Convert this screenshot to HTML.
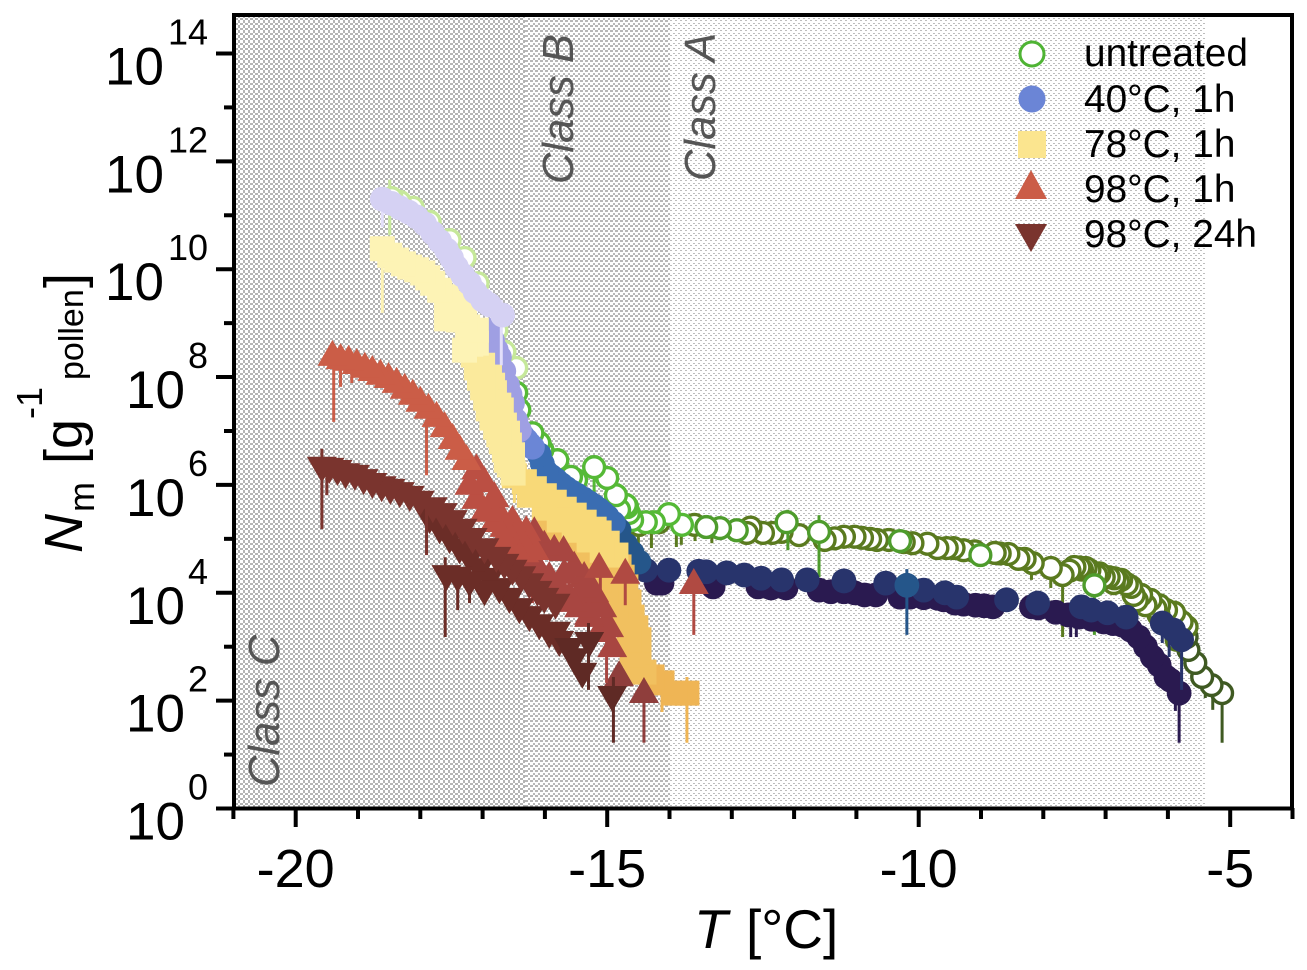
<!DOCTYPE html>
<html lang="en">
<head>
<meta charset="utf-8">
<title>Nm versus temperature</title>
<style>
html,body{margin:0;padding:0;background:#fff;width:1307px;height:970px;overflow:hidden}
svg{display:block}
text{font-family:"Liberation Sans",sans-serif;fill:#000}
</style>
</head>
<body>
<svg id="chart" width="1307" height="970" viewBox="0 0 1307 970" xmlns="http://www.w3.org/2000/svg">
  <defs>
    <pattern id="hatch-c" width="5" height="5" patternUnits="userSpaceOnUse">
      <rect width="5" height="5" fill="#b4b4b4" shape-rendering="crispEdges"/>
      <rect x="0" y="0" width="3" height="3" fill="#fff" shape-rendering="crispEdges"/>
      <rect x="3" y="3" width="2" height="2" fill="#fff" shape-rendering="crispEdges"/>
    </pattern>
    <pattern id="hatch-b" width="5" height="5" patternUnits="userSpaceOnUse">
      <rect width="5" height="5" fill="#fff" shape-rendering="crispEdges"/>
      <rect x="0" y="0" width="3" height="2" fill="#b8b8b8" shape-rendering="crispEdges"/>
      <rect x="3" y="3" width="2" height="2" fill="#b8b8b8" shape-rendering="crispEdges"/>
    </pattern>
    <pattern id="hatch-a" width="5" height="5" patternUnits="userSpaceOnUse">
      <rect width="5" height="5" fill="#fff" shape-rendering="crispEdges"/>
      <rect x="0" y="0" width="2" height="1" fill="#bcbcbc" shape-rendering="crispEdges"/>
      <rect x="3" y="3" width="2" height="1" fill="#bcbcbc" shape-rendering="crispEdges"/>
    </pattern>
  </defs>

  <rect x="234" y="15" width="291" height="793" fill="url(#hatch-c)"/>
  <rect x="525" y="15" width="145" height="793" fill="url(#hatch-b)"/>
  <rect x="670" y="15" width="535" height="793" fill="url(#hatch-a)"/>

  <g id="marks"></g>

  <g style="font-style:italic;font-size:43.5px">
    <text transform="translate(279 787) rotate(-90)" style="fill:#555">Class C</text>
    <text transform="translate(573 184) rotate(-90)" style="fill:#555">Class B</text>
    <text transform="translate(715 181) rotate(-90)" style="fill:#555">Class A</text>
  </g>

  <g id="axes"></g>
  <rect x="234" y="15" width="1058" height="793.5" fill="none" stroke="#000" stroke-width="4"/>

  <g style="font-size:38.8px">
    <g>
      <circle cx="1032" cy="54" r="12" fill="#fff" stroke="#4fb434" stroke-width="3"/>
      <text x="1084" y="66">untreated</text>
    </g>
    <g>
      <circle cx="1032" cy="99" r="13.5" fill="#6b85d6"/>
      <text x="1084" y="112">40°C, 1h</text>
    </g>
    <g>
      <rect x="1018" y="131" width="28" height="27" fill="#fbe58f"/>
      <text x="1084" y="157">78°C, 1h</text>
    </g>
    <g>
      <polygon points="1031,170 1047,199 1015,199" fill="#cb5d47"/>
      <text x="1084" y="202">98°C, 1h</text>
    </g>
    <g>
      <polygon points="1015,224 1047,224 1031,252" fill="#7a342e"/>
      <text x="1084" y="247">98°C, 24h</text>
    </g>
  </g>

  <text x="694" y="948" style="font-size:55px;font-style:italic">T</text>
  <text x="746" y="948" style="font-size:55px">[°C]</text>

  <g>
    <text transform="translate(82 553) rotate(-90)" style="font-size:54px;font-style:italic">N</text>
    <text transform="translate(94 512) rotate(-90)" style="font-size:36px">m</text>
    <text transform="translate(82 464) rotate(-90)" style="font-size:54px">[g</text>
    <text transform="translate(42 419) rotate(-90)" style="font-size:36px">-1</text>
    <text transform="translate(83 380) rotate(-90)" style="font-size:34px">pollen</text>
    <text transform="translate(82 288) rotate(-90)" style="font-size:54px">]</text>
  </g>
</svg>

<script>
// Tick values
const xMajorTicks = [-20, -15, -10, -5];
const xMinorTicks = [-21, -19, -18, -17, -16, -14, -13, -12, -11, -9, -8, -7, -6, -4];
const yMajorExponents = [0, 2, 4, 6, 8, 10, 12, 14];
const yMinorExponents = [1, 3, 5, 7, 9, 11, 13];

// Untreated: temperature (deg C) and log10 Nm
const untreatedDarkT = [-5.13, -5.30, -5.45, -5.56, -5.67, -5.70];
const untreatedDarkN = [2.13, 2.28, 2.43, 2.69, 2.93, 3.17];
const untreatedDarkBarT = [-5.13, -5.28, -5.40];
const untreatedDarkBarHi = [2.13, 2.30, 2.45];
const untreatedDarkBarLo = [1.21, 1.82, 2.04];

const untreatedOliveT = [-5.70, -5.78, -5.86, -5.90, -6.03, -6.15, -6.14, -6.20, -6.28, -6.36, -6.43, -6.50, -6.55, -6.59, -6.66, -6.75, -6.80, -6.87, -6.86, -6.95, -7.03, -7.10, -7.15, -7.26, -7.32, -7.38, -7.42, -7.50, -7.58, -7.69, -7.88, -8.17, -8.30, -8.40, -8.56, -8.70, -8.78, -9.10, -9.28, -9.44, -9.55, -9.70, -9.86, -10.10, -10.24, -10.48, -10.67, -10.78, -10.91, -11.03, -11.20, -11.35, -11.51, -11.92, -12.20, -12.35, -12.50, -12.70, -12.76, -13.60, -14.17, -14.49, -14.73];
const untreatedOliveN = [3.36, 3.45, 3.12, 3.62, 3.67, 3.58, 3.76, 3.70, 3.86, 3.76, 3.95, 3.85, 3.95, 4.10, 4.15, 4.23, 4.20, 4.17, 4.26, 4.28, 4.28, 4.35, 4.32, 4.41, 4.45, 4.42, 4.46, 4.47, 4.40, 4.32, 4.45, 4.54, 4.62, 4.62, 4.71, 4.72, 4.73, 4.76, 4.78, 4.82, 4.82, 4.82, 4.90, 4.91, 4.93, 4.97, 4.97, 4.99, 5.01, 5.03, 5.03, 5.00, 4.97, 5.06, 5.12, 5.10, 5.10, 5.20, 5.10, 5.25, 5.30, 5.25, 5.43];
const untreatedOliveBarT = [-7.69, -8.19, -7.88, -13.32, -13.59, -13.81, -13.89, -14.29, -14.50];
const untreatedOliveBarHi = [4.32, 4.50, 4.45, 5.20, 5.20, 5.20, 5.20, 5.30, 5.30];
const untreatedOliveBarLo = [3.17, 4.23, 4.08, 4.91, 4.95, 4.88, 4.84, 4.82, 4.78];

const untreatedMidT = [-7.18, -9.01, -10.30, -11.60, -12.12, -12.92, -13.19, -13.41];
const untreatedMidN = [4.13, 4.69, 4.95, 5.12, 5.30, 5.15, 5.19, 5.21];
const untreatedMidBarT = [-12.10, -11.60, -7.18];
const untreatedMidBarHi = [5.53, 5.43, 4.13];
const untreatedMidBarLo = [4.78, 4.28, 3.21];

const untreatedBrightT = [-13.80, -14.01, -14.25, -14.38, -14.60, -14.65, -14.68, -14.70, -14.81, -14.86, -15.00, -15.21, -15.50, -15.58, -15.80, -16.04, -16.09, -16.20, -16.41, -16.46];
const untreatedBrightN = [5.25, 5.45, 5.30, 5.30, 5.34, 5.47, 5.58, 5.62, 5.53, 5.80, 6.12, 6.32, 6.08, 6.14, 6.45, 6.64, 6.77, 6.95, 7.38, 7.70];
const untreatedBrightBarT = [-15.21];
const untreatedBrightBarHi = [6.32];
const untreatedBrightBarLo = [5.75];

const untreatedPaleT = [-16.46, -16.65, -16.78, -16.89, -17.08, -17.29, -17.53, -17.85, -18.12, -18.33, -18.46];
const untreatedPaleN = [8.16, 8.46, 8.86, 9.33, 9.73, 10.20, 10.53, 10.87, 11.13, 11.24, 11.31];
const untreatedPaleBarT = [-18.49];
const untreatedPaleBarHi = [11.65];
const untreatedPaleBarLo = [10.62];

// 40 deg C, 1 h
const heat40PurpleT = [-5.82, -5.96, -6.03, -6.14, -6.25, -6.36, -6.47, -6.60, -6.73, -6.88, -7.03, -7.22, -7.42, -7.60, -7.80, -8.08, -8.19, -8.81, -8.95, -9.09, -9.28, -9.42, -9.60, -9.70, -9.92, -10.14, -10.30, -10.69, -10.87, -11.03, -11.20, -11.41, -11.60, -12.13, -12.37, -12.58, -13.30, -14.12, -14.21];
const heat40PurpleN = [2.13, 2.37, 2.43, 2.65, 2.80, 2.99, 3.17, 3.30, 3.39, 3.42, 3.45, 3.50, 3.54, 3.58, 3.63, 3.71, 3.73, 3.73, 3.75, 3.76, 3.78, 3.80, 3.86, 3.89, 3.90, 3.91, 3.91, 3.95, 3.95, 3.99, 4.01, 4.01, 4.04, 4.08, 4.08, 4.10, 4.10, 4.17, 4.17];
const heat40PurpleBarT = [-5.82, -5.88, -7.56, -7.47];
const heat40PurpleBarHi = [2.13, 2.30, 3.50, 3.50];
const heat40PurpleBarLo = [1.21, 1.80, 3.17, 3.17];

const heat40NavyT = [-5.78, -5.91, -6.09, -6.67, -6.97, -7.23, -7.39, -8.09, -8.59, -9.39, -9.58, -9.92, -10.53, -11.20, -11.79, -12.20, -12.53, -12.80, -13.08, -13.41, -13.53, -14.01, -14.38];
const heat40NavyN = [3.12, 3.30, 3.43, 3.54, 3.62, 3.67, 3.73, 3.80, 3.86, 3.91, 3.99, 4.04, 4.17, 4.21, 4.23, 4.23, 4.26, 4.32, 4.36, 4.38, 4.39, 4.41, 4.41];
const heat40NavyBarT = [-5.78, -6.09, -5.98];
const heat40NavyBarHi = [3.12, 3.43, 3.30];
const heat40NavyBarLo = [2.19, 3.06, 2.80];

const heat40SteelDarkT = [-10.19, -14.49, -14.60, -14.70, -14.81];
const heat40SteelDarkN = [4.13, 4.56, 4.73, 4.88, 5.15];
const heat40SteelDarkBarT = [-10.19];
const heat40SteelDarkBarHi = [4.43];
const heat40SteelDarkBarLo = [3.21];

const heat40SteelT = [-14.90, -15.00, -15.07, -15.13, -15.21, -15.29, -15.38, -15.48, -15.57, -15.66, -15.74, -15.82, -15.90, -15.98, -16.04, -16.09];
const heat40SteelN = [5.28, 5.40, 5.47, 5.53, 5.60, 5.66, 5.73, 5.80, 5.86, 5.93, 6.00, 6.08, 6.15, 6.23, 6.38, 6.55];

const heat40BlueT = [-16.20, -16.25, -16.30, -16.36];
const heat40BlueN = [6.69, 6.75, 6.82, 6.90];

const heat40LavenderT = [-16.41, -16.47, -16.52, -16.56, -16.60, -16.66, -16.73, -16.78, -16.84, -16.89];
const heat40LavenderN = [7.01, 7.19, 7.51, 7.67, 7.84, 8.10, 8.36, 8.49, 8.67, 8.86];

const heat40PaleT = [-16.68, -16.89, -17.00, -17.12, -17.21, -17.32, -17.42, -17.50, -17.58, -17.69, -17.80, -17.93, -18.06, -18.19, -18.33, -18.46, -18.61];
const heat40PaleN = [9.14, 9.33, 9.42, 9.57, 9.73, 9.88, 10.03, 10.20, 10.35, 10.51, 10.66, 10.83, 10.96, 11.05, 11.13, 11.21, 11.29];
const heat40PaleBarT = [-18.61, -16.70];
const heat40PaleBarHi = [11.29, 9.42];
const heat40PaleBarLo = [10.77, 8.21];

// 78 deg C, 1 h
const heat78EndT = [-13.72, -13.91, -14.12, -14.28];
const heat78EndN = [2.13, 2.13, 2.32, 2.43];
const heat78EndBarT = [-13.72, -14.12];
const heat78EndBarHi = [2.43, 2.30];
const heat78EndBarLo = [1.21, 1.78];

const heat78OrangeT = [-14.41, -14.49, -14.54, -14.49, -14.49, -14.54, -14.60, -14.60, -14.65, -14.65, -14.70, -14.76, -14.76, -14.81, -14.86, -14.93, -15.02, -15.13, -15.26, -15.37, -15.53, -15.69, -15.83, -15.98];
const heat78OrangeN = [2.52, 2.69, 2.56, 2.89, 3.12, 3.34, 2.84, 3.54, 3.12, 3.82, 4.10, 3.45, 4.28, 4.47, 3.73, 3.86, 4.01, 4.23, 4.47, 4.69, 4.88, 5.06, 5.14, 5.21];

const heat78YellowT = [-14.86, -15.00, -15.13, -15.21, -15.37, -15.53, -15.69, -15.85, -16.01, -16.17, -16.33, -16.49, -15.08, -15.29, -15.53, -15.77, -16.01, -16.25];
const heat78YellowN = [4.69, 4.91, 5.10, 5.17, 5.30, 5.43, 5.54, 5.67, 5.79, 5.92, 6.05, 6.16, 4.78, 4.97, 5.15, 5.34, 5.56, 5.80];
const heat78YellowBarT = [-16.49];
const heat78YellowBarHi = [6.20];
const heat78YellowBarLo = [5.66];

const heat78MidT = [-16.51, -16.52, -16.57, -16.57, -16.62, -16.60, -16.65, -16.65, -16.70, -16.70, -16.74, -16.74, -16.79, -16.81, -16.84, -16.85, -16.89, -16.91, -16.95, -17.00, -17.00, -17.05, -17.10, -17.15];
const heat78MidN = [6.21, 6.55, 6.36, 6.73, 6.45, 6.95, 6.64, 7.10, 6.79, 7.38, 6.92, 7.47, 7.06, 7.70, 7.84, 7.23, 7.99, 7.40, 7.60, 7.79, 8.21, 7.97, 8.16, 8.40];

const heat78PaleT = [-17.10, -17.15, -17.19, -17.21, -17.24, -17.29, -17.31, -17.36, -17.10, -17.29, -17.39, -17.42, -17.50, -17.58, -17.58, -17.69, -17.80, -17.88, -17.96, -18.06, -18.17, -18.27, -18.38, -18.49, -18.61];
const heat78PaleN = [8.62, 8.71, 8.60, 8.81, 8.92, 8.49, 9.36, 9.14, 8.86, 9.05, 9.05, 9.23, 9.36, 9.07, 9.48, 9.60, 9.73, 9.83, 9.92, 9.98, 10.03, 10.09, 10.16, 10.25, 10.37];
const heat78PaleBarT = [-18.61];
const heat78PaleBarHi = [10.37];
const heat78PaleBarLo = [9.18];

// 98 deg C, 1 h
const heat98DeepT = [-14.41, -14.81];
const heat98DeepN = [2.17, 2.48];
const heat98DeepBarT = [-14.41];
const heat98DeepBarHi = [2.17];
const heat98DeepBarLo = [1.21];

const heat98DarkT = [-14.92, -14.97, -15.05, -15.08, -15.13, -15.21, -15.29, -15.21, -15.29, -15.37, -15.40, -15.45, -15.53, -15.56, -15.61, -15.69, -15.70, -15.77, -15.85, -15.88, -15.93, -16.01, -16.09, -16.17, -16.20, -16.25];
const heat98DarkN = [3.02, 3.39, 3.39, 3.76, 3.30, 3.93, 3.58, 4.04, 3.62, 4.32, 4.12, 3.76, 4.51, 3.86, 3.95, 4.38, 4.80, 4.13, 4.82, 4.10, 4.32, 4.90, 4.45, 5.15, 4.36, 4.60];
const heat98DarkBarT = [-15.01, -15.11, -16.05, -16.20];
const heat98DarkBarHi = [3.20, 4.40, 4.40, 4.40];
const heat98DarkBarLo = [2.32, 4.04, 3.86, 3.80];

const heat98MidT = [-16.17, -16.30, -16.33, -16.41, -16.49, -16.52, -16.65, -16.65, -16.73, -16.81, -16.81, -16.89, -16.97, -16.97, -17.10, -17.10, -17.21];
const heat98MidN = [4.82, 5.17, 4.78, 5.06, 4.88, 5.36, 5.06, 5.25, 5.49, 5.34, 5.80, 5.62, 5.53, 6.08, 5.77, 6.32, 6.03];
const heat98MidBarT = [-17.21, -16.70, -16.30];
const heat98MidBarHi = [6.40, 5.50, 5.17];
const heat98MidBarLo = [6.12, 4.69, 4.60];

const heat98LightT = [-17.26, -17.37, -17.48, -17.61, -17.74, -17.87, -18.00, -18.12, -18.25, -18.38, -18.51, -18.64, -18.77, -18.89, -19.02, -19.15, -19.28, -19.41];
const heat98LightN = [6.49, 6.68, 6.88, 7.10, 7.29, 7.44, 7.57, 7.70, 7.81, 7.92, 8.01, 8.07, 8.14, 8.20, 8.27, 8.33, 8.36, 8.42];
const heat98LightBarT = [-19.39, -19.28, -19.10, -17.90];
const heat98LightBarHi = [8.42, 8.40, 8.33, 7.20];
const heat98LightBarLo = [7.16, 7.81, 7.88, 6.17];

const heat98TopT = [-13.61, -14.71, -15.13];
const heat98TopN = [4.19, 4.38, 4.49];
const heat98TopBarT = [-13.61, -14.71];
const heat98TopBarHi = [4.19, 4.38];
const heat98TopBarLo = [3.21, 3.76];

// 98 deg C, 24 h
const heat24EndT = [-14.92, -15.29, -15.40, -15.53, -15.61];
const heat24EndN = [2.04, 3.04, 2.47, 2.74, 2.93];
const heat24EndBarT = [-14.90, -15.30];
const heat24EndBarHi = [2.43, 3.43];
const heat24EndBarLo = [1.21, 2.19];

const heat24LowerT = [-15.77, -15.82, -15.93, -16.09, -16.25, -16.41, -16.57, -16.73, -16.89, -16.97, -17.05, -17.21, -17.21, -17.37, -17.40, -17.53, -17.58, -17.69, -17.85];
const heat24LowerN = [3.06, 3.23, 3.21, 3.37, 3.52, 3.67, 3.86, 4.04, 4.23, 4.00, 4.41, 4.17, 4.60, 4.78, 4.25, 4.97, 4.28, 5.15, 5.34];
const heat24LowerBarT = [-17.60, -17.40, -17.21];
const heat24LowerBarHi = [4.65, 4.25, 4.04];
const heat24LowerBarLo = [3.17, 3.67, 3.80];

const heat24UpperT = [-15.83, -16.01, -16.12, -16.25, -16.38, -16.52, -16.65, -16.78, -16.97, -17.16, -17.32, -17.48, -17.64, -17.80, -18.01, -18.17, -18.33, -18.48, -18.62, -18.77, -18.91, -19.05, -19.20, -19.33, -19.46, -19.58];
const heat24UpperN = [3.75, 3.86, 3.99, 4.13, 4.26, 4.38, 4.49, 4.62, 4.78, 4.97, 5.14, 5.30, 5.43, 5.54, 5.66, 5.75, 5.82, 5.88, 5.93, 5.99, 6.06, 6.14, 6.17, 6.23, 6.27, 6.29];
const heat24UpperBarT = [-19.58, -19.50, -17.90];
const heat24UpperBarHi = [6.66, 6.20, 5.60];
const heat24UpperBarLo = [5.17, 5.80, 4.69];

// Axis functions
const xOf = T => 295.7 + (T + 20) * 62.3;
const yOf = v => 808 - v * 53.93;

const SVGNS = 'http://www.w3.org/2000/svg';
const marksRoot = document.getElementById('marks');
const axesRoot = document.getElementById('axes');

function make(tag, parent) {
  const el = document.createElementNS(SVGNS, tag);
  parent.appendChild(el);
  return el;
}

function drawBars(group, T, hi, lo, color) {
  T.forEach((t, i) => {
    const bar = make('line', group);
    
    
    bar.setAttribute('x1', xOf(t));
    bar.setAttribute('x2', xOf(t));
    bar.setAttribute('y1', yOf(hi[i]));
    bar.setAttribute('y2', yOf(lo[i]));
    bar.setAttribute('stroke', color);
    bar.setAttribute('stroke-width', 3);
  });
}

function drawMarker(group, kind, x, y, color) {
  let m;
  if (kind === 'ring') {
    m = make('circle', group);
    m.setAttribute('cx', x);
    m.setAttribute('cy', y);
    m.setAttribute('r', 10.4);
    m.setAttribute('fill', '#fff');
    m.setAttribute('stroke', color);
    m.setAttribute('stroke-width', 3.4);
  } else if (kind === 'disc') {
    m = make('circle', group);
    m.setAttribute('cx', x);
    m.setAttribute('cy', y);
    m.setAttribute('r', 12.4);
    m.setAttribute('fill', color);
  } else if (kind === 'square') {
    m = make('rect', group);
    m.setAttribute('x', x - 12.5);
    m.setAttribute('y', y - 12.5);
    m.setAttribute('width', 25);
    m.setAttribute('height', 25);
    m.setAttribute('fill', color);
  } else if (kind === 'up') {
    m = make('polygon', group);
    m.setAttribute('points', `${x},${y - 14} ${x + 15},${y + 12} ${x - 15},${y + 12}`);
    m.setAttribute('fill', color);
  } else {
    m = make('polygon', group);
    m.setAttribute('points', `${x - 15},${y - 12} ${x + 15},${y - 12} ${x},${y + 14}`);
    m.setAttribute('fill', color);
  }
  
  
}

function drawRun(runName, kind, color, T, N, barT, barHi, barLo, barColor) {
  const g = make('g', marksRoot);
  
  
  if (barT) drawBars(g, barT, barHi, barLo, barColor || color);
  T.forEach((t, i) => drawMarker(g, kind, xOf(t), yOf(N[i]), color));
}

drawRun('untreated-right-end', 'ring', '#3f5a22', untreatedDarkT, untreatedDarkN, untreatedDarkBarT, untreatedDarkBarHi, untreatedDarkBarLo);
drawRun('untreated-plateau', 'ring', '#5a7a1f', untreatedOliveT, untreatedOliveN, untreatedOliveBarT, untreatedOliveBarHi, untreatedOliveBarLo);
drawRun('untreated-plateau-bright', 'ring', '#4e9c2c', untreatedMidT, untreatedMidN, untreatedMidBarT, untreatedMidBarHi, untreatedMidBarLo);
drawRun('untreated-shoulder', 'ring', '#55b936', untreatedBrightT, untreatedBrightN, untreatedBrightBarT, untreatedBrightBarHi, untreatedBrightBarLo);
drawRun('untreated-steep-rise', 'ring', '#c6e89a', untreatedPaleT, untreatedPaleN, untreatedPaleBarT, untreatedPaleBarHi, untreatedPaleBarLo);

drawRun('heat-40c-lower-run', 'disc', '#2a1a50', heat40PurpleT, heat40PurpleN, heat40PurpleBarT, heat40PurpleBarHi, heat40PurpleBarLo);
drawRun('heat-40c-upper-run', 'disc', '#28346c', heat40NavyT, heat40NavyN, heat40NavyBarT, heat40NavyBarHi, heat40NavyBarLo);
drawRun('heat-40c-steel-dark-run', 'disc', '#25568a', heat40SteelDarkT, heat40SteelDarkN, heat40SteelDarkBarT, heat40SteelDarkBarHi, heat40SteelDarkBarLo);
drawRun('heat-40c-steel-run', 'disc', '#3a6db2', heat40SteelT, heat40SteelN);
drawRun('heat-40c-blue-run', 'disc', '#6b86d6', heat40BlueT, heat40BlueN);
drawRun('heat-40c-lavender-run', 'disc', '#9f9fe3', heat40LavenderT, heat40LavenderN);

drawRun('heat-78c-end-run', 'square', '#efb555', heat78EndT, heat78EndN, heat78EndBarT, heat78EndBarHi, heat78EndBarLo);
drawRun('heat-78c-orange-run', 'square', '#f1c05f', heat78OrangeT, heat78OrangeN);
drawRun('heat-78c-yellow-run', 'square', '#f8d978', heat78YellowT, heat78YellowN, heat78YellowBarT, heat78YellowBarHi, heat78YellowBarLo);
drawRun('heat-78c-mid-run', 'square', '#fbea9c', heat78MidT, heat78MidN);
drawRun('heat-78c-pale-run', 'square', '#fdf3b5', heat78PaleT, heat78PaleN, heat78PaleBarT, heat78PaleBarHi, heat78PaleBarLo);

drawRun('heat-40c-pale-run', 'disc', '#d5d1f3', heat40PaleT, heat40PaleN, heat40PaleBarT, heat40PaleBarHi, heat40PaleBarLo, '#e3dffa');

drawRun('heat-98c-deep-run', 'up', '#8f3e3c', heat98DeepT, heat98DeepN, heat98DeepBarT, heat98DeepBarHi, heat98DeepBarLo);
drawRun('heat-98c-dark-run', 'up', '#a84641', heat98DarkT, heat98DarkN, heat98DarkBarT, heat98DarkBarHi, heat98DarkBarLo);
drawRun('heat-98c-mid-run', 'up', '#bb4f43', heat98MidT, heat98MidN, heat98MidBarT, heat98MidBarHi, heat98MidBarLo);
drawRun('heat-98c-light-run', 'up', '#cb5d47', heat98LightT, heat98LightN, heat98LightBarT, heat98LightBarHi, heat98LightBarLo);
drawRun('heat-98c-separate-run', 'up', '#b04a42', heat98TopT, heat98TopN, heat98TopBarT, heat98TopBarHi, heat98TopBarLo);

drawRun('heat-24h-lower-run', 'down', '#6b2d27', heat24LowerT, heat24LowerN, heat24LowerBarT, heat24LowerBarHi, heat24LowerBarLo);
drawRun('heat-24h-upper-run', 'down', '#7a342e', heat24UpperT, heat24UpperN, heat24UpperBarT, heat24UpperBarHi, heat24UpperBarLo);
drawRun('heat-24h-end-run', 'down', '#5f2a25', heat24EndT, heat24EndN, heat24EndBarT, heat24EndBarHi, heat24EndBarLo);

function tick(x1, y1, x2, y2, tickName) {
  const t = make('line', axesRoot);
  
  
  t.setAttribute('x1', x1);
  t.setAttribute('y1', y1);
  t.setAttribute('x2', x2);
  t.setAttribute('y2', y2);
  t.setAttribute('stroke', '#000');
  t.setAttribute('stroke-width', 4);
}

xMajorTicks.forEach(v => {
  tick(xOf(v), 808, xOf(v), 827, 'x-major-tick');
  const label = make('text', axesRoot);
  
  
  label.setAttribute('x', xOf(v));
  label.setAttribute('y', 887);
  label.setAttribute('text-anchor', 'middle');
  label.style.fontSize = '54px';
  label.textContent = String(v);
});
xMinorTicks.forEach(v => tick(xOf(v), 808, xOf(v), 819, 'x-minor-tick'));

yMajorExponents.forEach(e => {
  const yPos = yOf(e) + 0.5;
  tick(216, yPos, 234, yPos, 'y-major-tick');
  const expo = String(e);
  const base = make('text', axesRoot);
  
  
  base.setAttribute('x', expo.length > 1 ? 164 : 185);
  base.setAttribute('y', yPos + 31);
  base.setAttribute('text-anchor', 'end');
  base.style.fontSize = '53px';
  base.textContent = '10';
  const sup = make('text', axesRoot);
  
  
  sup.setAttribute('x', 208);
  sup.setAttribute('y', yPos - 9);
  sup.setAttribute('text-anchor', 'end');
  sup.style.fontSize = '36px';
  sup.textContent = expo;
});
yMinorExponents.forEach(e => tick(224, yOf(e) + 0.5, 234, yOf(e) + 0.5, 'y-minor-tick'));
</script>
</body>
</html>
